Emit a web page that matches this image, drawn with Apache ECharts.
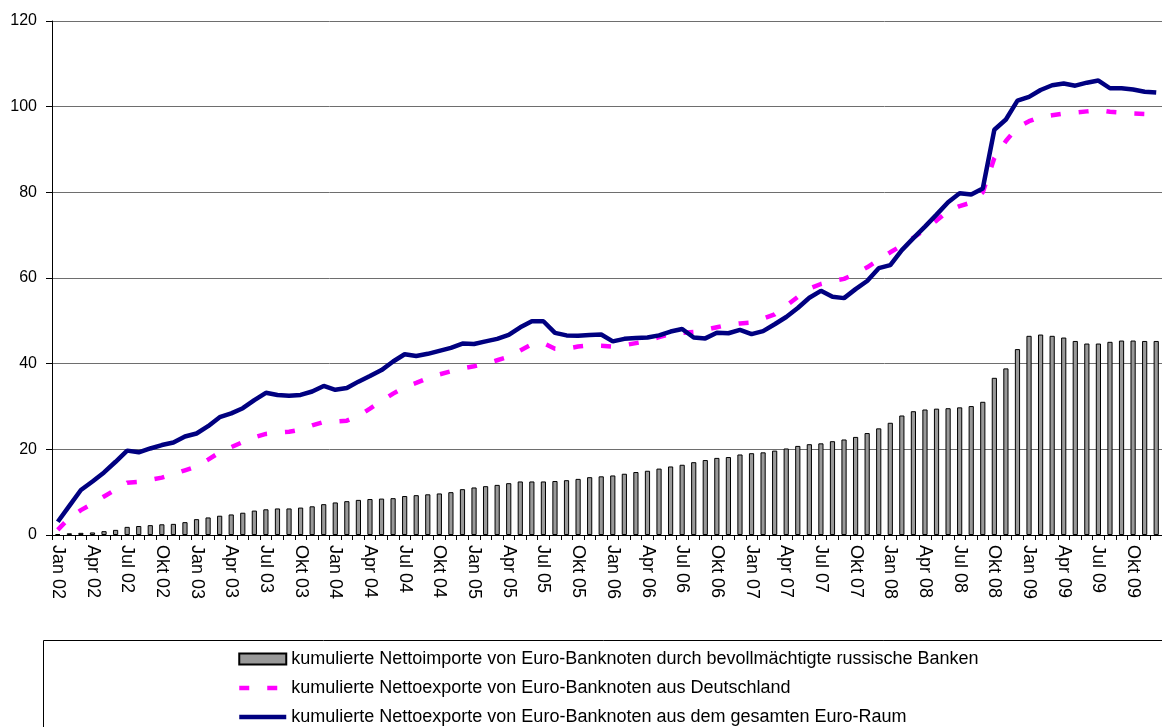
<!DOCTYPE html>
<html>
<head>
<meta charset="utf-8">
<script src="https://cdn.jsdelivr.net/npm/echarts/dist/echarts.min.js"></script>
<style>
  html, body { margin: 0; padding: 0; background: #fff; }
  #main { width: 1162px; height: 727px; }
</style>
</head>
<body>
<div id="main"></div>
<script>
// Monatskategorien Jan 02 .. Dez 09
var monthNames = ['Jan', 'Feb', 'Mär', 'Apr', 'Mai', 'Jun', 'Jul', 'Aug', 'Sep', 'Okt', 'Nov', 'Dez'];
var years = ['02', '03', '04', '05', '06', '07', '08', '09'];
var categories = [];
years.forEach(function (y) {
  monthNames.forEach(function (m) { categories.push(m + ' ' + y); });
});

var yTicks = [0, 20, 40, 60, 80, 100, 120];

var nameRussland = 'kumulierte Nettoimporte von Euro-Banknoten durch bevollmächtigte russische Banken';
var nameDeutschland = 'kumulierte Nettoexporte von Euro-Banknoten aus Deutschland';
var nameEuroRaum = 'kumulierte Nettoexporte von Euro-Banknoten aus dem gesamten Euro-Raum';

// Balken: Nettoimporte russischer Banken
var russland = [
  0.2, 0.4, 0.5, 0.6, 0.9, 1.2, 1.9, 2.1, 2.3, 2.5, 2.6, 3.0,
  3.7, 4.1, 4.5, 4.8, 5.2, 5.7, 6.0, 6.2, 6.2, 6.4, 6.7, 7.2,
  7.6, 7.9, 8.2, 8.4, 8.5, 8.6, 9.1, 9.3, 9.5, 9.7, 10.0, 10.7,
  11.1, 11.4, 11.7, 12.1, 12.5, 12.5, 12.5, 12.6, 12.8, 13.1, 13.5, 13.7,
  13.9, 14.3, 14.7, 15.0, 15.5, 16.0, 16.4, 17.0, 17.5, 18.0, 18.2, 18.8,
  19.1, 19.3, 19.7, 20.2, 20.8, 21.2, 21.4, 21.9, 22.3, 22.9, 23.8, 24.9,
  26.2, 27.9, 28.9, 29.3, 29.5, 29.6, 29.8, 30.1, 31.1, 36.7, 38.9, 43.4,
  46.5, 46.8, 46.5, 46.1, 45.3, 44.7, 44.7, 45.1, 45.4, 45.4, 45.3, 45.3
];

// gestrichelt: Nettoexporte aus Deutschland
var deutschland = [
  1.2, 4.0, 5.8, 7.3, 9.0, 10.6, 12.2, 12.4, 12.9, 13.4, 14.2, 15.1,
  16.0, 17.6, 19.3, 20.5, 21.7, 22.8, 23.6, 23.9, 24.1, 24.6, 25.6, 26.4,
  26.5, 26.7, 27.8, 29.5, 31.3, 33.0, 34.5, 35.5, 36.6, 37.5, 38.2, 38.9,
  39.4, 40.0, 40.8, 41.6, 43.1, 44.5, 44.8, 43.5, 43.5, 44.0, 44.3, 44.2,
  44.0, 44.3, 44.8, 45.3, 46.2, 46.9, 47.2, 47.4, 47.9, 48.5, 49.1, 49.4,
  49.6, 50.5, 51.5, 53.5, 55.6, 57.5, 58.6, 59.3, 59.8, 61.0, 62.5, 64.3,
  66.0, 67.6, 69.4, 71.3, 73.4, 75.6, 76.8, 77.6, 80.0, 88.0, 92.0, 95.2,
  96.6, 97.6, 98.0, 98.4, 98.6, 98.9, 99.2, 98.8, 98.6, 98.4, 98.3, 98.3
];

// durchgezogen: Nettoexporte gesamter Euro-Raum
var euroRaum = [
  3.1, 6.8, 10.5, 12.5, 14.6, 17.1, 19.7, 19.3, 20.2, 21.0, 21.6, 23.0,
  23.7, 25.4, 27.5, 28.4, 29.6, 31.5, 33.2, 32.7, 32.5, 32.7, 33.5, 34.8,
  33.9, 34.3, 35.8, 37.1, 38.5, 40.5, 42.2, 41.8, 42.3, 43.0, 43.7, 44.7,
  44.6, 45.2, 45.8, 46.7, 48.5, 49.9, 49.9, 47.2, 46.6, 46.5, 46.7, 46.8,
  45.2, 45.8, 46.0, 46.1, 46.6, 47.5, 48.1, 46.1, 45.9, 47.2, 47.1, 47.9,
  46.9, 47.6, 49.2, 50.9, 53.0, 55.4, 57.0, 55.6, 55.3, 57.4, 59.3, 62.3,
  63.0, 66.5, 69.3, 72.0, 74.8, 77.7, 79.8, 79.5, 80.9, 94.6, 97.0, 101.4,
  102.3, 103.9, 105.0, 105.4, 104.9, 105.6, 106.1, 104.3, 104.3, 104.0, 103.5, 103.3
];

var font = '"Liberation Sans", Arial, sans-serif';
var noSymbol = { color: 'rgba(0,0,0,0)', borderWidth: 0 };

var myChart = echarts.init(document.getElementById('main'));
var option = {
  backgroundColor: '#fff',
  animation: false,
  textStyle: { fontFamily: font },
  grid: {
    left: 52,
    top: 21,
    width: 1123, // Diagramm rechts abgeschnitten (Dez 09 ausserhalb)
    height: 514
  },
  // Rahmen der Legende (rechts und unten abgeschnitten)
  graphic: [{
    type: 'rect',
    shape: { x: 43.5, y: 640.5, width: 1140, height: 120 },
    style: { fill: 'none', stroke: '#000', lineWidth: 1 },
    silent: true
  }],
  legend: {
    orient: 'vertical',
    left: 237,
    top: 649,
    height: 120,
    padding: 0,
    itemWidth: 47,
    itemHeight: 11,
    itemGap: 9,
    textStyle: { fontSize: 18, lineHeight: 20, color: '#000', fontFamily: font },
    data: [
      { name: nameRussland, icon: 'rect' },
      { name: nameDeutschland, itemStyle: noSymbol, lineStyle: { width: 4.5 } },
      { name: nameEuroRaum, itemStyle: noSymbol, lineStyle: { width: 4.5 } }
    ]
  },
  xAxis: {
    type: 'category',
    data: categories,
    boundaryGap: true,
    axisLine: { show: true, lineStyle: { color: '#000', width: 1 } },
    axisTick: { show: true, interval: 0, length: 5, lineStyle: { color: '#000' } },
    axisLabel: {
      interval: 2,
      rotate: -90,
      margin: 10,
      fontSize: 18,
      color: '#000',
      fontFamily: font
    },
    splitLine: { show: false }
  },
  yAxis: {
    type: 'value',
    min: yTicks[0],
    max: yTicks[yTicks.length - 1],
    interval: 20,
    axisLine: { show: true, lineStyle: { color: '#000', width: 1 } },
    axisTick: { show: true, length: 6, lineStyle: { color: '#000' } },
    axisLabel: { margin: 15, fontSize: 16, color: '#000', fontFamily: font },
    splitLine: { show: true, lineStyle: { color: '#6e6e6e', width: 1 } }
  },
  series: [
    {
      name: nameRussland,
      type: 'bar',
      barWidth: '45%',
      itemStyle: { color: '#999999', borderColor: '#000', borderWidth: 1 },
      data: russland
    },
    {
      name: nameDeutschland,
      type: 'line',
      symbol: 'none',
      itemStyle: { color: '#ff00ff' },
      lineStyle: { color: '#ff00ff', width: 4.5, type: [10, 18] },
      data: deutschland
    },
    {
      name: nameEuroRaum,
      type: 'line',
      symbol: 'none',
      itemStyle: { color: '#000080' },
      lineStyle: { color: '#000080', width: 4.5 },
      data: euroRaum
    }
  ]
};
myChart.setOption(option);
</script>
</body>
</html>
